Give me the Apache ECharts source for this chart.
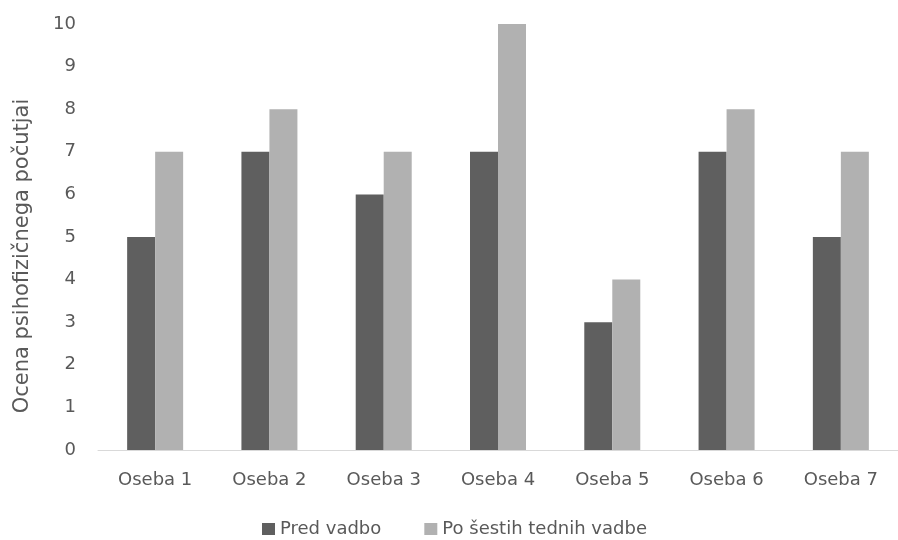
<!DOCTYPE html>
<html>
<head>
<meta charset="utf-8">
<script src="https://cdn.jsdelivr.net/npm/echarts@6/dist/echarts.min.js"></script>
<style>html,body{margin:0;padding:0;background:#fff;}#c{width:898px;height:540px;}</style>
</head>
<body>
<div id="c"></div>
<script>
var categories = ['Oseba 1','Oseba 2','Oseba 3','Oseba 4','Oseba 5','Oseba 6','Oseba 7'];
var predVadbo = [5, 7, 6, 7, 3, 7, 5];
var poSestihTednih = [7, 8, 7, 10, 4, 8, 7];
var seriesNames = ['Pred vadbo', 'Po šestih tednih vadbe'];
var yAxisTitle = 'Ocena psihofizičnega počutjai';

var FONT = 'DejaVu Sans';
var chart = echarts.init(document.getElementById('c'), null, {renderer: 'canvas'});
chart.setOption({
  animation: false,
  backgroundColor: '#ffffff',
  grid: {left: 98, right: -11, top: 24, bottom: 90, containLabel: false},
  legend: {
    top: 520, left: 262, padding: 0,
    itemWidth: 13, itemHeight: 12, itemGap: 43,
    icon: 'rect',
    textStyle: {fontFamily: FONT, fontSize: 18, color: '#595959'},
    data: seriesNames
  },
  graphic: [{
    type: 'text',
    x: 23, y: 256,
    rotation: Math.PI / 2,
    style: {text: yAxisTitle, fontFamily: FONT, fontSize: 21, fill: '#595959', textAlign: 'center', textVerticalAlign: 'middle'}
  }],
  xAxis: {
    type: 'category', data: categories,
    axisLine: {lineStyle: {color: '#d9d9d9', width: 1}},
    axisTick: {show: false},
    axisLabel: {fontFamily: FONT, fontSize: 18, color: '#595959', margin: 21}
  },
  yAxis: {
    type: 'value', min: 0, max: 10, interval: 1,
    axisLine: {show: false}, axisTick: {show: false},
    splitLine: {show: false},
    axisLabel: {fontFamily: FONT, fontSize: 18, color: '#595959', margin: 22}
  },
  series: [
    {name: seriesNames[0], type: 'bar', data: predVadbo, barWidth: 28, barGap: '0%', itemStyle: {color: '#5f5f5f'}},
    {name: seriesNames[1], type: 'bar', data: poSestihTednih, barWidth: 28, barGap: '0%', itemStyle: {color: '#b1b1b1'}}
  ]
});
</script>
</body>
</html>
